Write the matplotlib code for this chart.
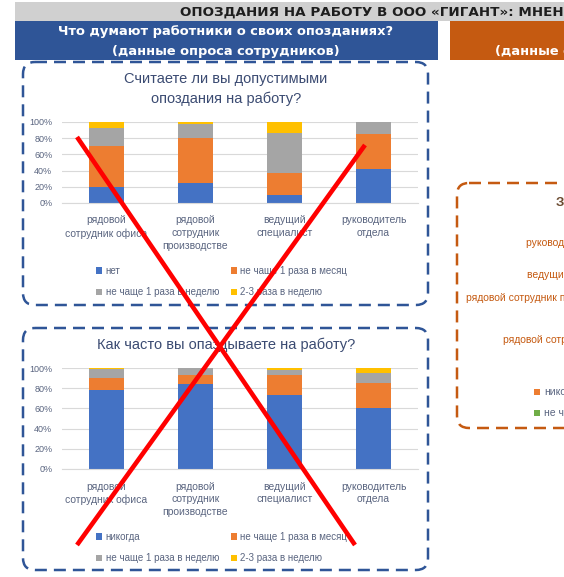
import matplotlib
matplotlib.use("Agg")
import matplotlib.pyplot as plt
from matplotlib.patches import FancyBboxPatch, Rectangle
from matplotlib.ticker import PercentFormatter
import numpy as np

plt.rcParams['font.family'] = ['Liberation Sans', 'DejaVu Sans']

# ---------------- data ----------------
categories = ["рядовой\nсотрудник офиса", "рядовой\nсотрудник\nпроизводстве",
              "ведущий\nспециалист", "руководитель\nотдела"]

# chart 1: "Считаете ли вы допустимыми опоздания на работу?"
q1_labels = ["нет", "не чаще 1 раза в месяц", "не чаще 1 раза в неделю", "2-3 раза в неделю"]
q1_no = [0.20, 0.25, 0.10, 0.42]
q1_month = [0.50, 0.55, 0.27, 0.43]
q1_week = [0.23, 0.18, 0.49, 0.15]
q1_often = [0.07, 0.02, 0.14, 0.00]

# chart 2: "Как часто вы опаздываете на работу?"
q2_labels = ["никогда", "не чаще 1 раза в месяц", "не чаще 1 раза в неделю", "2-3 раза в неделю"]
q2_never = [0.78, 0.84, 0.73, 0.60]
q2_month = [0.12, 0.09, 0.20, 0.25]
q2_week = [0.09, 0.07, 0.05, 0.10]
q2_often = [0.01, 0.00, 0.02, 0.05]

yticks = [0, 0.2, 0.4, 0.6, 0.8, 1.0]

right_labels = ["руководитель отдела", "ведущий специалист",
                "рядовой сотрудник производстве", "рядовой сотрудник офиса"]
right_legend = ["никогда", "не чаще 1 раза в месяц"]

# ---------------- style ----------------
W, H = 564, 577
C_BLUE, C_ORANGE, C_GRAY, C_YELLOW, C_GREEN = "#4472C4", "#ED7D31", "#A5A5A5", "#FFC000", "#70AD47"
HDR_BLUE, HDR_ORANGE = "#2F5597", "#C55A11"
TXT = "#5A6580"
TITLE = "#3B4B72"
HEAVY = ['DejaVu Sans']

fig = plt.figure(figsize=(W / 100, H / 100), dpi=100)
fig.patch.set_facecolor("white")


def rect(x0, y0, x1, y1):
    return [x0 / W, 1 - y1 / H, (x1 - x0) / W, (y1 - y0) / H]


bg = fig.add_axes([0, 0, 1, 1], zorder=0)
bg.set_xlim(0, W)
bg.set_ylim(H, 0)
bg.axis("off")

# top banner
bg.add_patch(Rectangle((15, 2), W - 15, 19, color="#D0D0D0", lw=0))
bg.text(180, 12, "ОПОЗДАНИЯ НА РАБОТУ В ООО «ГИГАНТ»: МНЕНИЕ РАБОТНИКОВ И РУКОВОДСТВА",
        fontsize=9.7, fontweight="bold", family=HEAVY, color="#1E1E1E",
        ha="left", va="center", clip_on=True)
# headers
bg.add_patch(Rectangle((15, 21), 423, 39, color=HDR_BLUE, lw=0))
bg.text(226, 32, "Что думают работники о своих опозданиях?", fontsize=9.4,
        fontweight="bold", family=HEAVY, color="white", ha="center", va="center")
bg.text(226, 51, "(данные опроса сотрудников)", fontsize=9.4,
        fontweight="bold", family=HEAVY, color="white", ha="center", va="center")
bg.add_patch(Rectangle((450, 21), 300, 39, color=HDR_ORANGE, lw=0))
bg.text(495, 51, "(данные опроса руководителей)", fontsize=9.4,
        fontweight="bold", family=HEAVY, color="white", ha="left", va="center", clip_on=True)

dash = (0, (4.8, 2.8))
for (x0, y0, x1, y1) in [(23, 62, 428, 305), (23, 328, 428, 570)]:
    bg.add_patch(FancyBboxPatch((x0, y0), x1 - x0, y1 - y0,
                                boxstyle="round,pad=0,rounding_size=12",
                                fill=False, ec=HDR_BLUE, lw=1.8, ls=dash))
bg.add_patch(FancyBboxPatch((457, 183), 400, 245, boxstyle="round,pad=0,rounding_size=12",
                            fill=False, ec=HDR_ORANGE, lw=1.8, ls=dash, clip_on=True))

# right-hand partially visible chart
bg.text(556, 202, "Знают ли руководители об опозданиях?", fontsize=9.5, fontweight="bold",
        color="#6B4A30", ha="left", va="center", clip_on=True)
for lab, (x, y) in zip(right_labels, [(526, 243), (527, 275), (466, 298), (503, 340)]):
    bg.text(x, y, lab, fontsize=7.5, color=HDR_ORANGE, ha="left", va="center", clip_on=True)
for lab, col, y in zip(right_legend, [C_ORANGE, C_GREEN], [392, 413]):
    bg.add_patch(Rectangle((534, y - 3), 6, 6, color=col, lw=0))
    bg.text(544, y, lab, fontsize=7.5, color=TXT, ha="left", va="center", clip_on=True)


def stacked(ax_rect, series, colors, labels, title, title_y, legend_y):
    ax = fig.add_axes(rect(*ax_rect), zorder=1)
    ax.set_facecolor("none")
    x = np.arange(len(categories))
    bottom = np.zeros(len(categories))
    handles = []
    for vals, col, lab in zip(series, colors, labels):
        b = ax.bar(x, vals, 0.4, bottom=bottom, color=col, label=lab, zorder=2)
        handles.append(b)
        bottom = bottom + np.array(vals)
    ax.set_xlim(-0.5, len(categories) - 0.5)
    ax.set_ylim(0, 1.0)
    ax.set_yticks(yticks)
    ax.yaxis.set_major_formatter(PercentFormatter(1.0, decimals=0))
    ax.grid(axis="y", color="#D9D9D9", lw=0.8, zorder=0)
    ax.set_axisbelow(True)
    for s in ["top", "right", "left"]:
        ax.spines[s].set_visible(False)
    ax.spines["bottom"].set_color("#D9D9D9")
    ax.tick_params(length=0, labelsize=6.5, labelcolor=TXT)
    ax.tick_params(axis="y", pad=7)
    ax.tick_params(axis="x", labelsize=7.5, pad=9)
    ax.set_xticks(x)
    ax.set_xticklabels(categories, linespacing=1.35)
    for t in ax.get_yticklabels():
        t.set_clip_on(False)
    bg.text(226, title_y, title, fontsize=10.5, color=TITLE, ha="center", va="center",
            linespacing=1.45)
    order = [handles[0], handles[2], handles[1], handles[3]]
    fig.legend(order, [labels[0], labels[2], labels[1], labels[3]], ncol=2,
               loc="upper left", bbox_to_anchor=(96 / W, 1 - (legend_y - 4) / H),
               frameon=False, fontsize=7, labelcolor=TXT, handlelength=0.6,
               handleheight=0.6, handletextpad=0.4, columnspacing=1.2,
               labelspacing=1.15, borderpad=0, borderaxespad=0)
    return ax


stacked((62, 122, 418, 203), [q1_no, q1_month, q1_week, q1_often],
        [C_BLUE, C_ORANGE, C_GRAY, C_YELLOW], q1_labels,
        "Считаете ли вы допустимыми\nопоздания на работу?", 89, 270)
stacked((62, 368, 418, 469), [q2_never, q2_month, q2_week, q2_often],
        [C_BLUE, C_ORANGE, C_GRAY, C_YELLOW], q2_labels,
        "Как часто вы опаздываете на работу?", 345, 536)

# red cross overlay
ov = fig.add_axes([0, 0, 1, 1], zorder=10)
ov.set_facecolor("none")
ov.set_xlim(0, W)
ov.set_ylim(H, 0)
ov.axis("off")
ov.plot([77, 355], [137, 545], color="red", lw=3.3, solid_capstyle="butt")
ov.plot([365, 77], [145, 545], color="red", lw=3.3, solid_capstyle="butt")

fig.savefig("out.png", dpi=100)
